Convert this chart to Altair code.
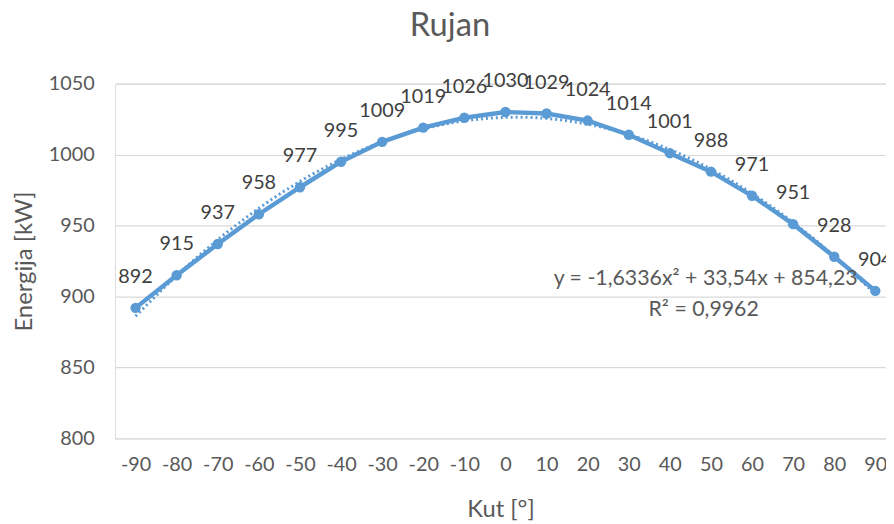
import altair as alt
import pandas as pd

angles = [-90, -80, -70, -60, -50, -40, -30, -20, -10, 0, 10, 20, 30, 40, 50, 60, 70, 80, 90]
energy = [892, 915, 937, 958, 977, 995, 1009, 1019, 1026, 1030, 1029, 1024, 1014, 1001, 988, 971, 951, 928, 904]
y_ticks = [800, 850, 900, 950, 1000, 1050]
equation = "y = -1,6336x² + 33,54x + 854,23"
r_squared = "R² = 0,9962"

df = pd.DataFrame({"Kut": angles, "Energija": energy})

FONT = "Lato"
BLUE = "#5B9BD5"
GRAY = "#595959"

x = alt.X("Kut:Q",
          scale=alt.Scale(domain=[-95, 92.6], nice=False, zero=False),
          axis=alt.Axis(values=angles, title="Kut [°]", grid=False, domain=False,
                        ticks=False, labelPadding=16, titlePadding=24,
                        labelExpr="'' + datum.value",
                        labelFontSize=20, titleFontSize=24, labelColor=GRAY,
                        titleColor=GRAY, labelFont=FONT, titleFont=FONT,
                        titleFontWeight="normal", labelFlush=False, labelOverlap=False))
y = alt.Y("Energija:Q",
          scale=alt.Scale(domain=[800, 1050], nice=False, zero=False),
          axis=alt.Axis(values=y_ticks, title="Energija [kW]", grid=True, gridColor="#D9D9D9",
                        gridWidth=1.2, domain=False, ticks=False, labelPadding=21,
                        labelExpr="'' + datum.value",
                        titlePadding=12, labelFontSize=20, titleFontSize=24,
                        labelColor=GRAY, titleColor=GRAY, labelFont=FONT, titleFont=FONT,
                        titleFontWeight="normal"))

base = alt.Chart(df)

line = base.mark_line(color=BLUE, strokeWidth=4.5).encode(x=x, y=y)
points = base.mark_circle(color=BLUE, size=110, opacity=1).encode(x="Kut:Q", y="Energija:Q")
trend = base.transform_regression("Kut", "Energija", method="poly", order=2).mark_line(
    color=BLUE, strokeWidth=3, strokeDash=[2, 3]).encode(x="Kut:Q", y="Energija:Q")
labels = base.mark_text(font=FONT, fontSize=20, color="#404040", baseline="middle",
                        dy=-31).encode(x="Kut:Q", y="Energija:Q", text="Energija:Q")

eq1 = alt.Chart(pd.DataFrame({"t": [equation]})).mark_text(
    font=FONT, fontSize=21.5, color=GRAY, baseline="middle").encode(
    x=alt.value(596), y=alt.value(197), text="t:N")
eq2 = alt.Chart(pd.DataFrame({"t": [r_squared]})).mark_text(
    font=FONT, fontSize=21.5, color=GRAY, baseline="middle").encode(
    x=alt.value(594), y=alt.value(228), text="t:N")

chart = alt.layer(line, trend, points, labels, eq1, eq2).properties(
    width=778, height=358,
    title=alt.TitleParams("Rujan", font=FONT, fontSize=33, color=GRAY,
                          fontWeight="normal", offset=29, dx=-51, anchor="middle",
                          frame="group"),
    autosize=alt.AutoSizeParams(type="none"),
    padding={"left": 108, "top": 74, "right": 0, "bottom": 84},
).configure_view(stroke=None).configure(background="white")

chart.save("out.html", embed_options={"renderer": "svg", "actions": False})
